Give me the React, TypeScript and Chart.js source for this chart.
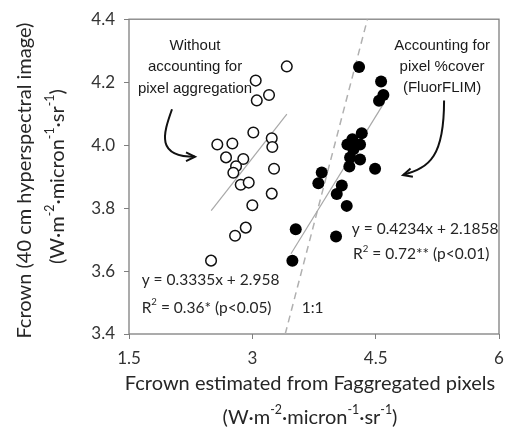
import React, { useEffect, useRef } from "react";
import { Chart, registerables } from "chart.js";

Chart.register(...registerables);

// Open circles: without accounting for pixel aggregation
const openX = [3.419, 3.041, 3.203, 3.054, 3.012, 2.574, 2.757, 3.236, 3.243, 2.68, 2.89, 2.802, 2.769, 3.264, 2.859, 2.956, 3.236, 3.0, 2.92, 2.79, 2.498];
const openY = [4.25, 4.205, 4.159, 4.142, 4.04, 4.002, 4.005, 4.022, 3.994, 3.961, 3.956, 3.933, 3.912, 3.925, 3.874, 3.881, 3.846, 3.809, 3.738, 3.712, 3.633];

// Filled circles: accounting for pixel %cover (FluorFLIM)
const filledX = [4.298, 4.566, 4.594, 4.541, 4.331, 4.217, 4.156, 4.31, 4.229, 4.189, 4.31, 4.18, 4.493, 3.844, 3.803, 4.088, 4.027, 4.148, 4.018, 3.528, 3.487];
const filledY = [4.248, 4.202, 4.159, 4.141, 4.038, 4.019, 4.002, 4.002, 3.987, 3.961, 3.954, 3.932, 3.925, 3.913, 3.879, 3.872, 3.845, 3.807, 3.71, 3.733, 3.633];

// Regression lines (slope, intercept) and their x extents
const openFit = [0.3335, 2.958];
const openFitRange = [2.5, 3.42];
const filledFit = [0.4234, 2.1858];
const filledFitRange = [3.47, 4.6];
const oneToOneRange = [3.4, 4.4];

const xTicks = [1.5, 3, 4.5, 6];
const yTicks = [3.4, 3.6, 3.8, 4.0, 4.2, 4.4];

const leftLabel = ["Without", "accounting for", "pixel aggregation"];
const rightLabel = ["Accounting for", "pixel %cover", "(FluorFLIM)"];
const leftEq = "y = 0.3335x + 2.958";
const leftR2 = " = 0.36* (p<0.05)";
const rightEq = "y = 0.4234x + 2.1858";
const rightR2 = " = 0.72** (p<0.01)";
const oneToOneLabel = "1:1";
const yTitle = "Fcrown (40 cm hyperspectral image)";
const xTitle = "Fcrown estimated from Faggregated pixels";

const SANS = "Lato, 'Open Sans', sans-serif";
const ARIAL = "'Liberation Sans', Arial, sans-serif";

type Seg = { t: string; sup?: boolean };
const unitSegs: Seg[] = [
  { t: "(W·m" }, { t: "-2", sup: true }, { t: "·micron" }, { t: "-1", sup: true },
  { t: "·sr" }, { t: "-1", sup: true }, { t: ")" },
];

function drawRich(ctx: CanvasRenderingContext2D, segs: Seg[], x: number, y: number, size: number, family: string, align: "left" | "center") {
  const supSize = size * 0.62;
  let total = 0;
  const widths = segs.map((s) => {
    ctx.font = `${s.sup ? supSize : size}px ${family}`;
    const w = ctx.measureText(s.t).width;
    total += w;
    return w;
  });
  let cx = align === "center" ? x - total / 2 : x;
  ctx.textAlign = "left";
  ctx.textBaseline = "middle";
  segs.forEach((s, i) => {
    ctx.font = `${s.sup ? supSize : size}px ${family}`;
    ctx.fillText(s.t, cx, s.sup ? y - size * 0.38 : y);
    cx += widths[i];
  });
}

function fitPoints(fit: number[], range: number[]) {
  return range.map((x) => ({ x, y: fit[0] * x + fit[1] }));
}

// arrow paths in data units: start, cp1, cp2, end
const leftArrow = [[2.023, 4.114], [1.914, 4.034], [1.828, 3.963], [2.303, 3.963]];
const rightArrow = [[5.332, 4.142], [5.332, 3.966], [5.162, 3.929], [4.833, 3.905]];

const decorPlugin = {
  id: "decor",
  beforeDatasetsDraw(chart: any) {
    const { ctx, chartArea: a } = chart;
    ctx.save();
    ctx.strokeStyle = "#7f7f7f";
    ctx.lineWidth = 1.3;
    ctx.strokeRect(a.left, a.top, a.right - a.left, a.bottom - a.top);
    ctx.restore();
  },
  afterDatasetsDraw(chart: any) {
    const { ctx, chartArea: a, scales } = chart;
    const X = (v: number) => scales.x.getPixelForValue(v);
    const Y = (v: number) => scales.y.getPixelForValue(v);
    ctx.save();
    ctx.fillStyle = "#1a1a1a";
    ctx.font = `15px ${ARIAL}`;
    ctx.textAlign = "center";
    ctx.textBaseline = "middle";
    const lys = [4.315, 4.25, 4.178];
    leftLabel.forEach((t, i) => ctx.fillText(t, X(2.303), Y(lys[i])));
    const rys = [4.315, 4.249, 4.182];
    rightLabel.forEach((t, i) => ctx.fillText(t, X(5.308), Y(rys[i])));

    ctx.fillStyle = "#262626";
    ctx.font = `15.5px ${SANS}`;
    ctx.textAlign = "left";
    ctx.fillText(leftEq, X(1.654), Y(3.572));
    drawRich(ctx, [{ t: "R" }, { t: "2", sup: true }, { t: leftR2 }], X(1.654), Y(3.484), 15.5, SANS, "left");
    ctx.font = `15.5px ${SANS}`;
    ctx.fillText(rightEq, X(4.209), Y(3.735));
    drawRich(ctx, [{ t: "R" }, { t: "2", sup: true }, { t: rightR2 }], X(4.225), Y(3.653), 15.5, SANS, "left");
    ctx.font = `15.5px ${SANS}`;
    ctx.textAlign = "left";
    ctx.fillText(oneToOneLabel, X(3.601), Y(3.484));

    // arrows
    ctx.strokeStyle = "#111";
    ctx.lineWidth = 2;
    [leftArrow, rightArrow].forEach((p) => {
      const pts = p.map(([x, y]) => [X(x), Y(y)]);
      ctx.beginPath();
      ctx.moveTo(pts[0][0], pts[0][1]);
      ctx.bezierCurveTo(pts[1][0], pts[1][1], pts[2][0], pts[2][1], pts[3][0], pts[3][1]);
      ctx.stroke();
      const ang = Math.atan2(pts[3][1] - pts[2][1], pts[3][0] - pts[2][0]);
      const L = 10;
      ctx.beginPath();
      ctx.moveTo(pts[3][0] - L * Math.cos(ang - 0.45), pts[3][1] - L * Math.sin(ang - 0.45));
      ctx.lineTo(pts[3][0], pts[3][1]);
      ctx.lineTo(pts[3][0] - L * Math.cos(ang + 0.45), pts[3][1] - L * Math.sin(ang + 0.45));
      ctx.stroke();
    });

    // axis titles
    ctx.fillStyle = "#262626";
    const cy = (a.top + a.bottom) / 2;
    const cx = (a.left + a.right) / 2;
    ctx.save();
    ctx.translate(25, cy + 4);
    ctx.rotate(-Math.PI / 2);
    drawRich(ctx, [{ t: yTitle }], 0, 0, 20, SANS, "center");
    ctx.restore();
    ctx.save();
    ctx.translate(58, cy);
    ctx.rotate(-Math.PI / 2);
    drawRich(ctx, unitSegs, 0, 0, 20, SANS, "center");
    ctx.restore();
    drawRich(ctx, [{ t: xTitle }], cx - 4, 384, 20, SANS, "center");
    drawRich(ctx, unitSegs, cx - 4, 418, 20, SANS, "center");
    ctx.restore();
  },
};

export default function App() {
  const ref = useRef<HTMLCanvasElement>(null);
  useEffect(() => {
    document.body.style.margin = "0";
    const ctx = ref.current!.getContext("2d")!;
    const tickFont = { family: SANS, size: 17 };
    const chart = new Chart(ctx, {
      type: "scatter",
      data: {
        datasets: [
          {
            data: filledX.map((x, i) => ({ x, y: filledY[i] })),
            pointRadius: 6,
            pointBackgroundColor: "#000",
            pointBorderColor: "#000",
            pointBorderWidth: 0,
          },
          {
            data: openX.map((x, i) => ({ x, y: openY[i] })),
            pointRadius: 5.3,
            pointBackgroundColor: "#fff",
            pointBorderColor: "#111",
            pointBorderWidth: 1.5,
          },
          {
            type: "line",
            data: fitPoints(openFit, openFitRange),
            borderColor: "#a8a8a8",
            borderWidth: 1.2,
            pointRadius: 0,
            showLine: true,
          },
          {
            type: "line",
            data: fitPoints(filledFit, filledFitRange),
            borderColor: "#a8a8a8",
            borderWidth: 1.2,
            pointRadius: 0,
            showLine: true,
          },
          {
            type: "line",
            data: oneToOneRange.map((v) => ({ x: v, y: v })),
            borderColor: "#b0b0b0",
            borderWidth: 1.5,
            borderDash: [7, 5],
            pointRadius: 0,
            showLine: true,
          },
        ] as any,
      },
      options: {
        animation: false,
        responsive: false,
        maintainAspectRatio: false,
        layout: { padding: { top: 9, right: 14, left: 0, bottom: 0 } },
        plugins: { legend: { display: false }, tooltip: { enabled: false } },
        scales: {
          x: {
            type: "linear",
            min: 1.5,
            max: 6,
            afterBuildTicks: (s: any) => { s.ticks = xTicks.map((value) => ({ value })); },
            afterFit: (s: any) => { s.height = 99; },
            ticks: { font: tickFont, color: "#333", padding: 9, callback: (v: any) => String(v) },
            grid: { display: true, drawOnChartArea: false, drawTicks: true, tickLength: 5, color: "#7f7f7f" },
            border: { display: false },
          },
          y: {
            type: "linear",
            min: 3.4,
            max: 4.4,
            afterBuildTicks: (s: any) => { s.ticks = yTicks.map((value) => ({ value })); },
            afterFit: (s: any) => { s.width = 129; },
            ticks: { font: tickFont, color: "#333", padding: 9, callback: (v: any) => Number(v).toFixed(1) },
            grid: { display: true, drawOnChartArea: false, drawTicks: true, tickLength: 5, color: "#7f7f7f" },
            border: { display: false },
          },
        },
      },
      plugins: [decorPlugin],
    });
    return () => chart.destroy();
  }, []);
  return (
    <div style={{ width: 513, height: 433 }}>
      <canvas ref={ref} width={513} height={433} style={{ display: "block" }} />
    </div>
  );
}
